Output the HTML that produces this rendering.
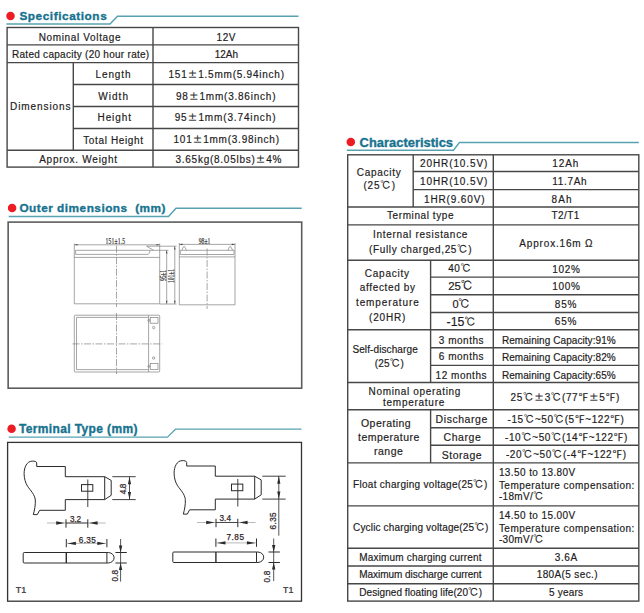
<!DOCTYPE html>
<html lang="en"><head><meta charset="utf-8"><title>Battery data sheet</title>
<style>html,body{margin:0;padding:0;background:#fff}body{width:644px;height:613px;overflow:hidden;position:relative}svg{display:block;position:absolute;left:0;top:0}text{white-space:pre}</style>
</head><body>
<svg width="644" height="613" viewBox="0 0 644 613" font-family="'Liberation Sans','IPAGothic','WenQuanYi Zen Hei','Noto Sans CJK SC',sans-serif" font-size="10" fill="#1e1b22" stroke="#1e1b22" stroke-width="0.18">
<rect width="644" height="613" fill="#fff" stroke="none"/>
<g id="specifications">
<circle cx="10.5" cy="15.9" r="4.25" fill="#ed1c24" stroke="none"/>
<text x="19.4" y="19.5" textLength="87.3" font-weight="bold" fill="#17738f" stroke="#17738f" font-size="11.8" stroke-width="0.35">Specifications</text>
<polyline points="6.4,23.9 110.0,23.9 117.5,16.2 298.5,16.2" fill="none" stroke="#58a2b2" stroke-width="1.5"/>
<g stroke="#474747" stroke-width="1.4" fill="none">
<rect x="7.1" y="27.5" width="291.4" height="139.6"/>
<line x1="7.1" y1="44.9" x2="298.5" y2="44.9"/>
<line x1="7.1" y1="62.6" x2="298.5" y2="62.6"/>
<line x1="7.1" y1="150.2" x2="298.5" y2="150.2"/>
<line x1="73.3" y1="84.5" x2="298.5" y2="84.5"/>
<line x1="73.3" y1="106.5" x2="298.5" y2="106.5"/>
<line x1="73.3" y1="128.5" x2="298.5" y2="128.5"/>
<line x1="153.0" y1="27.5" x2="153.0" y2="167.1"/>
<line x1="73.3" y1="62.6" x2="73.3" y2="150.2"/>
</g>
<text x="38.7" y="40.5" textLength="81.8">Nominal Voltage</text>
<text x="12.0" y="58.0" textLength="137.2">Rated capacity (20 hour rate)</text>
<text x="95.5" y="78.0" textLength="35.0">Length</text>
<text x="98.2" y="99.5" textLength="29.8">Width</text>
<text x="10.0" y="110.0" textLength="60.5">Dimensions</text>
<text x="97.5" y="121.2" textLength="33.5">Height</text>
<text x="83.2" y="143.7" textLength="59.8">Total Height</text>
<text x="39.2" y="163.2" textLength="77.8">Approx. Weight</text>
<text x="216.5" y="40.5" textLength="19.0">12V</text>
<text x="214.7" y="58.0" textLength="23.3">12Ah</text>
<text x="168.5" y="78.0" textLength="115.5">151<tspan font-family="'IPAGothic','Noto Serif CJK SC','Noto Sans CJK SC',sans-serif">±</tspan>1.5mm(5.94inch)</text>
<text x="176.0" y="99.5" textLength="99.5">98<tspan font-family="'IPAGothic','Noto Serif CJK SC','Noto Sans CJK SC',sans-serif">±</tspan>1mm(3.86inch)</text>
<text x="174.7" y="121.2" textLength="100.8">95<tspan font-family="'IPAGothic','Noto Serif CJK SC','Noto Sans CJK SC',sans-serif">±</tspan>1mm(3.74inch)</text>
<text x="173.5" y="143.2" textLength="105.5">101<tspan font-family="'IPAGothic','Noto Serif CJK SC','Noto Sans CJK SC',sans-serif">±</tspan>1mm(3.98inch)</text>
<text x="175.5" y="162.5" textLength="106.0">3.65kg(8.05lbs)<tspan font-family="'IPAGothic','Noto Serif CJK SC','Noto Sans CJK SC',sans-serif">±</tspan>4%</text>
</g>
<g id="outer-dimensions">
<circle cx="12.1" cy="208.1" r="4.25" fill="#ed1c24" stroke="none"/>
<text x="19.4" y="212.4" textLength="146.1" font-weight="bold" fill="#17738f" stroke="#17738f" font-size="11.8" stroke-width="0.35">Outer dimensions  (mm)</text>
<polyline points="8.7,216.5 168.5,216.5 176.0,208.3 301.7,208.3" fill="none" stroke="#58a2b2" stroke-width="1.5"/>
<rect x="8.15" y="222.1" width="293.55" height="166.1" fill="none" stroke="#5c5c5c" stroke-width="1.6"/>
<g stroke="#808080" stroke-width="0.7" fill="none">
<path d="M74.3 243.6 V303.8 H159.7 V243.6"/>
<line x1="74.3" y1="244.8" x2="159.7" y2="244.8"/>
<line x1="74.3" y1="257.4" x2="159.7" y2="257.4"/>
<path d="M75.6 254.4 V250.3 H150.1 Q149.9 253.4 148.2 254.4 Z"/>
<path d="M146.6 246.2 L153.6 250.3"/>
<path d="M116.5 245.7 V307" stroke-dasharray="7 1.5 1.5 1.5"/>
<line x1="150.1" y1="250.3" x2="168.5" y2="250.3"/>
<line x1="159.7" y1="304.0" x2="176.5" y2="304.0"/>
<line x1="146.6" y1="246.2" x2="176.5" y2="246.2"/>
<line x1="166.7" y1="250.3" x2="166.7" y2="304.0"/>
<line x1="174.8" y1="246.3" x2="174.8" y2="304.0"/>
<path d="M179.3 243 V304.8 H235 V243"/>
<line x1="179.3" y1="244.4" x2="235.0" y2="244.4"/>
<line x1="179.3" y1="256.9" x2="235.0" y2="256.9"/>
<path d="M180.3 254.5 V250.3 H234 V254.5 Z"/>
<path d="M181.7 250.3 L183.6 246.6 Q184.1 245.9 184.6 246.6 L186.5 250.3"/>
<path d="M227.8 250.3 L229.7 246.6 Q230.2 245.9 230.7 246.6 L232.7 250.3"/>
<path d="M207.1 248.5 V309" stroke-dasharray="7 1.5 1.5 1.5"/>
<rect x="74.3" y="315.2" width="85.4" height="56.8" rx="1"/>
<path d="M148.6 317.4 H76.5 V369.6 H148.6"/>
<line x1="148.6" y1="315.2" x2="148.6" y2="372.0"/>
<rect x="150.2" y="317.4" width="7.8" height="5.8"/>
<rect x="150.2" y="363.6" width="7.8" height="5.8"/>
<circle cx="153.7" cy="327.6" r="1.2"/><circle cx="153.7" cy="358" r="1.2"/>
<circle cx="148.8" cy="320.4" r="1"/><circle cx="148.8" cy="366.4" r="1"/>
<path d="M72.5 343.9 H162.2" stroke-dasharray="7 1.5 1.5 1.5"/>
<path d="M116.5 313 V374" stroke-dasharray="7 1.5 1.5 1.5"/>
</g>
<g fill="#4a4a4a" stroke="none">
<path d="M74.3 244.8 L77.5 244.0 L77.5 245.6 Z M159.7 244.8 L156.5 245.6 L156.5 244.0 Z M179.3 244.4 L182.5 243.6 L182.5 245.2 Z M235.0 244.4 L231.8 245.2 L231.8 243.6 Z M166.7 250.3 L167.5 253.5 L165.9 253.5 Z M166.7 304.0 L165.9 300.8 L167.5 300.8 Z M174.8 246.3 L175.6 249.5 L174.0 249.5 Z M174.8 304.0 L174.0 300.8 L175.6 300.8 Z"/>
</g>
<g font-family="'Liberation Serif',serif" font-size="7.6" fill="#2e2e2e" stroke="#2e2e2e" stroke-width="0.2">
<text transform="translate(105.5 244.0) scale(0.74 1)" textLength="26.4">151±1.5</text>
<text transform="translate(198.8 243.6) scale(0.74 1)" textLength="15.5">98±1</text>
<text transform="translate(165.9 281.0) rotate(-90) scale(0.74 1)" textLength="14.9">95±1</text>
<text transform="translate(174.4 283.0) rotate(-90) scale(0.74 1)" textLength="18.9">101±1</text>
</g>
</g>
<g id="terminal-type">
<circle cx="11.6" cy="428.7" r="4.25" fill="#ed1c24" stroke="none"/>
<text x="18.9" y="432.9" textLength="118.6" font-weight="bold" fill="#17738f" stroke="#17738f" font-size="12" stroke-width="0.35">Terminal Type (mm)</text>
<polyline points="8.7,437.1 167.5,437.1 175.5,429.2 301.5,429.2" fill="none" stroke="#58a2b2" stroke-width="1.2"/>
<rect x="7.6" y="442.4" width="293.9" height="158.8" fill="none" stroke="#333" stroke-width="1.3"/>
<g stroke="#2b2b2b" stroke-width="1" fill="none">
<g transform="translate(0.0 0.0)">
<path d="M36.7 462.9 V466.5 H65.3 V476.7 H104.7 L111.2 480.4 V495.3 L104.7 499.6 H65.3 V510.3 H39.6 L37.3 514.6 H33.3 C34.6 510 35.6 505 35.3 500 C34.8 494.5 30.5 490.5 27.6 486.3 C25.5 483 24.1 478.5 24.1 473.7 C24.1 467 27 461.3 32.1 461.1 C34.5 461 36.5 461.5 36.7 462.9 Z"/>
<line x1="104.7" y1="476.7" x2="104.7" y2="499.6"/>
<rect x="81.5" y="484.6" width="11.3" height="6.6"/>
<line x1="87.8" y1="479.5" x2="87.8" y2="507.0" stroke-width="0.9"/>
<line x1="112.3" y1="476.7" x2="135.7" y2="476.7" stroke-width="0.9"/>
<line x1="112.3" y1="499.6" x2="135.7" y2="499.6" stroke-width="0.9"/>
<line x1="129.5" y1="476.7" x2="129.5" y2="499.6" stroke-width="0.8"/>
<path d="M129.5 476.7 L131.1 484.2 L127.9 484.2 Z M129.5 499.6 L127.9 492.1 L131.1 492.1 Z" fill="#2b2b2b" stroke="none"/>
<line x1="47.0" y1="523.0" x2="105.6" y2="523.0" stroke-width="0.6" stroke="#8a8a8a"/>
<line x1="66.0" y1="523.0" x2="87.8" y2="523.0" stroke-width="0.8"/>
<line x1="66.0" y1="519.3" x2="66.0" y2="527.7" stroke-width="1"/>
<line x1="87.8" y1="519.3" x2="87.8" y2="527.7" stroke-width="1"/>
<path d="M64.6 523.0 L56.2 524.7 L56.2 521.3 Z M89.2 523.0 L97.6 521.3 L97.6 524.7 Z" fill="#2b2b2b" stroke="none"/>
</g>
<path d="M106.9 552.5 H24.2 Q23.2 552.5 23.2 553.5 V562.0 Q23.2 563.0 24.2 563.0 H106.9 Z"/>
<path d="M106.9 552.5 H108.4 C111.9 552.8 114.1 555.1 114.1 557.8 C114.1 560.4 111.9 562.7 108.4 563.0 H106.9"/>
<line x1="66.3" y1="552.5" x2="66.3" y2="563.0" stroke-width="1.4"/>
<line x1="66.3" y1="539.0" x2="66.3" y2="547.3" stroke-width="1"/>
<line x1="106.9" y1="539.0" x2="106.9" y2="547.3" stroke-width="1"/>
<line x1="66.3" y1="543.4" x2="106.9" y2="543.4" stroke-width="0.6" stroke="#8a8a8a"/>
<path d="M67.5 543.4 L75.9 541.8 L75.9 545.0 Z M105.7 543.4 L97.3 545.0 L97.3 541.8 Z" fill="#2b2b2b" stroke="none"/>
<line x1="120.6" y1="539.0" x2="120.6" y2="581.6" stroke-width="0.8"/>
<line x1="115.4" y1="552.5" x2="126.8" y2="552.5" stroke-width="1"/>
<line x1="115.4" y1="563.0" x2="126.8" y2="563.0" stroke-width="1"/>
<path d="M120.6 552.5 L118.9 545.5 L122.3 545.5 Z M120.6 563.0 L122.3 570.0 L118.9 570.0 Z" fill="#2b2b2b" stroke="none"/>
</g>
<g stroke="#2b2b2b" stroke-width="1" fill="none">
<g transform="translate(150.0 -0.5)">
<path d="M36.7 462.9 V466.5 H65.3 V476.7 H104.7 L111.2 480.4 V495.3 L104.7 499.6 H65.3 V510.3 H39.6 L37.3 514.6 H33.3 C34.6 510 35.6 505 35.3 500 C34.8 494.5 30.5 490.5 27.6 486.3 C25.5 483 24.1 478.5 24.1 473.7 C24.1 467 27 461.3 32.1 461.1 C34.5 461 36.5 461.5 36.7 462.9 Z"/>
<line x1="104.7" y1="476.7" x2="104.7" y2="499.6"/>
<rect x="81.5" y="484.6" width="11.3" height="6.6"/>
<line x1="87.8" y1="479.5" x2="87.8" y2="507.0" stroke-width="0.9"/>
<line x1="112.3" y1="476.7" x2="135.7" y2="476.7" stroke-width="0.9"/>
<line x1="112.3" y1="499.6" x2="135.7" y2="499.6" stroke-width="0.9"/>
<line x1="128.8" y1="476.7" x2="128.8" y2="536.2" stroke-width="0.8"/>
<path d="M128.8 476.7 L130.4 484.2 L127.2 484.2 Z M128.8 499.6 L127.2 492.1 L130.4 492.1 Z" fill="#2b2b2b" stroke="none"/>
<line x1="47.0" y1="523.0" x2="105.6" y2="523.0" stroke-width="0.6" stroke="#8a8a8a"/>
<line x1="66.0" y1="523.0" x2="87.8" y2="523.0" stroke-width="0.8"/>
<line x1="66.0" y1="519.3" x2="66.0" y2="527.7" stroke-width="1"/>
<line x1="87.8" y1="519.3" x2="87.8" y2="527.7" stroke-width="1"/>
<path d="M64.6 523.0 L56.2 524.7 L56.2 521.3 Z M89.2 523.0 L97.6 521.3 L97.6 524.7 Z" fill="#2b2b2b" stroke="none"/>
</g>
<path d="M256.5 552.0 H173.8 Q172.8 552.0 172.8 553.0 V561.5 Q172.8 562.5 173.8 562.5 H256.5 Z"/>
<path d="M256.5 552.0 H258.0 C261.5 552.3 263.7 554.6 263.7 557.2 C263.7 559.9 261.5 562.2 258.0 562.5 H256.5"/>
<line x1="215.9" y1="552.0" x2="215.9" y2="562.5" stroke-width="1.4"/>
<line x1="215.9" y1="538.5" x2="215.9" y2="546.8" stroke-width="1"/>
<line x1="256.5" y1="538.5" x2="256.5" y2="546.8" stroke-width="1"/>
<line x1="215.9" y1="542.9" x2="256.5" y2="542.9" stroke-width="0.6" stroke="#8a8a8a"/>
<path d="M217.1 542.9 L225.5 541.2 L225.5 544.5 Z M255.3 542.9 L246.9 544.5 L246.9 541.2 Z" fill="#2b2b2b" stroke="none"/>
<line x1="273.7" y1="538.5" x2="273.7" y2="581.1" stroke-width="0.8"/>
<line x1="268.5" y1="552.0" x2="279.9" y2="552.0" stroke-width="1"/>
<line x1="268.5" y1="562.5" x2="279.9" y2="562.5" stroke-width="1"/>
<path d="M273.7 552.0 L272.0 545.0 L275.4 545.0 Z M273.7 562.5 L275.4 569.5 L272.0 569.5 Z" fill="#2b2b2b" stroke="none"/>
</g>
<g font-size="8.2" fill="#33292c" stroke="#33292c" stroke-width="0.25">
<text x="69.9" y="521.6" textLength="11.2" font-size="8.2">3.2</text>
<text x="78.8" y="542.8" textLength="16.9" font-size="8.2">6.35</text>
<text transform="translate(126.1 494.2) rotate(-90)" textLength="10.6">4.8</text>
<text transform="translate(117.9 581.6) rotate(-90)" textLength="11.7">0.8</text>
<text x="219.5" y="521.0" textLength="11.5" font-size="8.2">3.4</text>
<text x="226.5" y="539.8" textLength="17.5" font-size="8.2">7.85</text>
<text transform="translate(275.6 529.4) rotate(-90)" textLength="17.0">6.35</text>
<text transform="translate(270.1 582.4) rotate(-90)" textLength="11.8">0.8</text>
</g>
<text x="15.8" y="593.0" textLength="10.3" font-weight="bold" fill="#4d494b" stroke="#4d494b" font-size="9.9" stroke-width="0" lengthAdjust="spacingAndGlyphs">T1</text>
<text x="283.1" y="593.0" textLength="10.2" font-weight="bold" fill="#4d494b" stroke="#4d494b" font-size="9.9" stroke-width="0" lengthAdjust="spacingAndGlyphs">T1</text>
</g>
<g id="characteristics">
<circle cx="350.8" cy="142.1" r="4.25" fill="#ed1c24" stroke="none"/>
<text x="359.6" y="146.5" textLength="93.4" font-weight="bold" fill="#17738f" stroke="#17738f" font-size="12.9" stroke-width="0.35">Characteristics</text>
<polyline points="346.8,150.3 453.5,150.3 459.5,142.4 638.8,142.4" fill="none" stroke="#58a2b2" stroke-width="1.5"/>
<g stroke="#474747" stroke-width="1.4" fill="none">
<rect x="347.7" y="154.8" width="291.1" height="446.3"/>
<line x1="493.3" y1="154.8" x2="493.3" y2="601.1"/>
<line x1="347.7" y1="207.0" x2="638.8" y2="207.0"/>
<line x1="347.7" y1="224.9" x2="638.8" y2="224.9"/>
<line x1="347.7" y1="260.2" x2="638.8" y2="260.2"/>
<line x1="347.7" y1="329.8" x2="638.8" y2="329.8"/>
<line x1="347.7" y1="382.5" x2="638.8" y2="382.5"/>
<line x1="347.7" y1="409.8" x2="638.8" y2="409.8"/>
<line x1="347.7" y1="462.9" x2="638.8" y2="462.9"/>
<line x1="347.7" y1="505.9" x2="638.8" y2="505.9"/>
<line x1="347.7" y1="548.2" x2="638.8" y2="548.2"/>
<line x1="347.7" y1="566.0" x2="638.8" y2="566.0"/>
<line x1="347.7" y1="583.8" x2="638.8" y2="583.8"/>
<line x1="413.2" y1="171.5" x2="638.8" y2="171.5"/>
<line x1="413.2" y1="189.6" x2="638.8" y2="189.6"/>
<line x1="413.2" y1="154.8" x2="413.2" y2="207.0"/>
<line x1="430.6" y1="277.1" x2="638.8" y2="277.1"/>
<line x1="430.6" y1="294.7" x2="638.8" y2="294.7"/>
<line x1="430.6" y1="312.5" x2="638.8" y2="312.5"/>
<line x1="430.6" y1="347.7" x2="638.8" y2="347.7"/>
<line x1="430.6" y1="365.4" x2="638.8" y2="365.4"/>
<line x1="430.6" y1="427.7" x2="638.8" y2="427.7"/>
<line x1="430.6" y1="445.3" x2="638.8" y2="445.3"/>
<line x1="430.6" y1="260.2" x2="430.6" y2="382.5"/>
<line x1="430.6" y1="409.8" x2="430.6" y2="462.9"/>
</g>
<text x="356.8" y="175.9" textLength="44.0">Capacity</text>
<text x="363.5" y="189.0" textLength="31.5">(25<tspan stroke-width="0.05" font-size="10.6">℃</tspan>)</text>
<text x="420.0" y="167.2" textLength="67.3">20HR(10.5V)</text>
<text x="420.0" y="185.1" textLength="67.3">10HR(10.5V)</text>
<text x="424.0" y="202.8" textLength="60.5">1HR(9.60V)</text>
<text x="387.0" y="219.4" textLength="66.5">Terminal type</text>
<text x="552.3" y="167.2" textLength="26.1">12Ah</text>
<text x="552.3" y="185.1" textLength="34.3">11.7Ah</text>
<text x="551.6" y="202.8" textLength="19.9">8Ah</text>
<text x="551.6" y="219.4" textLength="27.6">T2/T1</text>
<text x="373.0" y="237.9" textLength="94.4">Internal resistance</text>
<text x="369.0" y="252.8" textLength="102.6">(Fully charged,25<tspan stroke-width="0.05" font-size="10.6">℃</tspan>)</text>
<text x="519.3" y="247.3" textLength="73.3">Approx.16m Ω</text>
<text x="364.8" y="277.1" textLength="44.2">Capacity</text>
<text x="359.8" y="290.8" textLength="55.2">affected by</text>
<text x="356.0" y="305.7" textLength="62.7">temperature</text>
<text x="369.0" y="321.1" textLength="36.3">(20HR)</text>
<text x="448.3" y="272.2" textLength="22.7">40<tspan stroke-width="0.05" font-size="10.6">℃</tspan></text>
<text x="448.3" y="290.2" textLength="24.7" font-size="11.5">25<tspan stroke-width="0.05" font-size="12.2">℃</tspan></text>
<text x="452.5" y="307.6" textLength="17.5" font-size="11">0<tspan stroke-width="0.05" font-size="11.7">℃</tspan></text>
<text x="446.5" y="325.8" textLength="29.3" font-size="12.3">-15<tspan stroke-width="0.05" font-size="11.3">℃</tspan></text>
<text x="552.3" y="272.6" textLength="27.7">102%</text>
<text x="552.3" y="290.3" textLength="27.7">100%</text>
<text x="554.8" y="307.7" textLength="21.6">85%</text>
<text x="554.8" y="325.4" textLength="21.6">65%</text>
<text x="352.4" y="353.0" textLength="65.3">Self-discharge</text>
<text x="374.7" y="367.1" textLength="29.1">(25<tspan stroke-width="0.05" font-size="10.6">℃</tspan>)</text>
<text x="438.8" y="343.5" textLength="44.7">3 months</text>
<text x="438.8" y="360.4" textLength="44.7">6 months</text>
<text x="435.6" y="378.8" textLength="50.9">12 months</text>
<text x="501.9" y="343.5" textLength="113.8">Remaining Capacity:91%</text>
<text x="501.9" y="360.9" textLength="113.8">Remaining Capacity:82%</text>
<text x="501.9" y="378.8" textLength="113.8">Remaining Capacity:65%</text>
<text x="368.5" y="395.0" textLength="91.9">Nominal operating</text>
<text x="383.0" y="406.0" textLength="61.3">temperature</text>
<text x="510.6" y="400.7" textLength="108.8">25<tspan stroke-width="0.05" font-size="10.6">℃</tspan><tspan font-family="'IPAGothic','Noto Serif CJK SC','Noto Sans CJK SC',sans-serif">±</tspan>3<tspan stroke-width="0.05" font-size="10.6">℃</tspan>(77<tspan font-family="'Noto Sans CJK SC','Noto Sans CJK JP','IPAGothic',sans-serif">℉</tspan><tspan font-family="'IPAGothic','Noto Serif CJK SC','Noto Sans CJK SC',sans-serif">±</tspan>5<tspan font-family="'Noto Sans CJK SC','Noto Sans CJK JP','IPAGothic',sans-serif">℉</tspan>)</text>
<text x="361.0" y="427.2" textLength="49.7" font-size="10.5">Operating</text>
<text x="358.0" y="440.8" textLength="61.4" font-size="10.5">temperature</text>
<text x="374.0" y="454.5" textLength="28.8" font-size="10.5">range</text>
<text x="435.6" y="423.4" textLength="51.7" font-size="10.5">Discharge</text>
<text x="443.5" y="440.8" textLength="37.3" font-size="10.5">Charge</text>
<text x="441.8" y="458.7" textLength="39.8" font-size="10.5">Storage</text>
<text x="507.6" y="422.9" textLength="116.3">-15<tspan stroke-width="0.05" font-size="10.6">℃</tspan>~50<tspan stroke-width="0.05" font-size="10.6">℃</tspan>(5<tspan font-family="'Noto Sans CJK SC','Noto Sans CJK JP','IPAGothic',sans-serif">℉</tspan>~122<tspan font-family="'Noto Sans CJK SC','Noto Sans CJK JP','IPAGothic',sans-serif">℉</tspan>)</text>
<text x="505.1" y="440.5" textLength="122.3">-10<tspan stroke-width="0.05" font-size="10.6">℃</tspan>~50<tspan stroke-width="0.05" font-size="10.6">℃</tspan>(14<tspan font-family="'Noto Sans CJK SC','Noto Sans CJK JP','IPAGothic',sans-serif">℉</tspan>~122<tspan font-family="'Noto Sans CJK SC','Noto Sans CJK JP','IPAGothic',sans-serif">℉</tspan>)</text>
<text x="505.9" y="458.4" textLength="120.2">-20<tspan stroke-width="0.05" font-size="10.6">℃</tspan>~50<tspan stroke-width="0.05" font-size="10.6">℃</tspan>(-4<tspan font-family="'Noto Sans CJK SC','Noto Sans CJK JP','IPAGothic',sans-serif">℉</tspan>~122<tspan font-family="'Noto Sans CJK SC','Noto Sans CJK JP','IPAGothic',sans-serif">℉</tspan>)</text>
<text x="353.1" y="488.0" textLength="134.2">Float charging voltage(25<tspan stroke-width="0.05" font-size="10.6">℃</tspan>)</text>
<text x="353.1" y="531.3" textLength="135.2">Cyclic charging voltage(25<tspan stroke-width="0.05" font-size="10.6">℃</tspan>)</text>
<text x="498.9" y="476.1" textLength="76.3">13.50 to 13.80V</text>
<text x="498.9" y="488.5" textLength="135.4">Temperature compensation:</text>
<text x="498.9" y="499.7" textLength="44.7">-18mV/<tspan stroke-width="0.05" font-size="10.6">℃</tspan></text>
<text x="498.9" y="519.1" textLength="76.3">14.50 to 15.00V</text>
<text x="498.9" y="531.5" textLength="135.4">Temperature compensation:</text>
<text x="498.9" y="543.2" textLength="44.7">-30mV/<tspan stroke-width="0.05" font-size="10.6">℃</tspan></text>
<text x="359.3" y="560.6" textLength="122.3">Maximum charging current</text>
<text x="359.3" y="578.4" textLength="122.3">Maximum discharge current</text>
<text x="359.3" y="596.3" textLength="122.7">Designed floating life(20<tspan stroke-width="0.05" font-size="10.6">℃</tspan>)</text>
<text x="554.8" y="560.6" textLength="22.4">3.6A</text>
<text x="536.7" y="578.4" textLength="60.8">180A(5 sec.)</text>
<text x="549.1" y="596.3" textLength="33.8">5 years</text>
</g>
</svg>
</body></html>
